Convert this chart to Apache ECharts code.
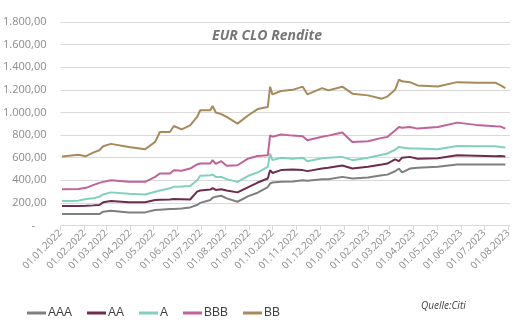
<!DOCTYPE html>
<html>
<head>
<meta charset="utf-8">
<script src="https://cdn.jsdelivr.net/npm/echarts@6/dist/echarts.min.js"></script>
<style>
  html, body { margin: 0; padding: 0; background: #ffffff; }
  #chart { width: 525px; height: 325px; }
</style>
</head>
<body>
<div id="chart"></div>
<script>
// ---- Data ----
const dates = [
  "2022-01-03","2022-01-24","2022-02-03","2022-02-12","2022-02-20","2022-02-25",
  "2022-03-07","2022-03-30","2022-04-20","2022-05-03","2022-05-09","2022-05-22",
  "2022-05-27","2022-06-06","2022-06-17","2022-06-26","2022-06-30","2022-07-13",
  "2022-07-16","2022-07-20","2022-07-27","2022-08-03","2022-08-17","2022-08-31",
  "2022-09-12","2022-09-25","2022-09-28","2022-10-01","2022-10-12","2022-10-27",
  "2022-11-09","2022-11-15","2022-12-04","2022-12-12","2022-12-30","2023-01-12",
  "2023-02-01","2023-02-19","2023-02-26","2023-03-08","2023-03-13","2023-03-17",
  "2023-03-27","2023-04-06","2023-05-02","2023-05-27","2023-06-20","2023-07-15",
  "2023-07-22","2023-07-28"
];
const seriesNames = ["AAA", "AA", "A", "BBB", "BB"];
const valuesAAA = [
  101,101,101,101,101,122, 131,116,116,137,140,146, 146,150,160,181,200,225,
  245,255,263,240,210,260, 290,340,372,380,386,390, 400,396,410,410,430,416,
  425,445,450,480,504,469, 504,510,519,540,540,540, 540,540
];
const valuesAA = [
  172,172,175,178,181,205, 216,205,205,225,228,230, 234,233,230,300,310,318,
  330,315,320,310,293,340, 380,416,489,465,490,495, 490,481,505,510,530,504,
  520,540,548,585,569,600, 607,590,595,622,618,613, 614,611
];
const valuesA = [
  216,220,234,240,254,275, 293,280,275,298,310,330, 342,345,350,400,440,445,
  451,430,430,410,386,440, 470,519,637,578,600,590, 600,569,595,600,607,578,
  600,625,637,670,695,690, 681,681,675,704,700,701, 695,689
];
const valuesBBB = [
  320,322,333,357,377,386, 401,388,386,430,460,460, 489,485,504,540,548,548,
  578,545,569,528,533,593, 615,622,798,785,805,795, 790,754,785,795,822,739,
  745,775,783,840,871,865, 871,857,871,910,890,878, 875,857
];
const valuesBB = [
  610,625,613,645,666,701, 722,695,675,740,827,827, 880,850,886,960,1019,1019,
  1057,1000,985,960,901,975, 1030,1048,1228,1160,1190,1200, 1228,1160,1215,1195,1228,1166,
  1151,1122,1140,1200,1290,1275, 1268,1239,1230,1268,1263,1263, 1239,1215
];
const monthLabels = [
  "01.01.2022","01.02.2022","01.03.2022","01.04.2022","01.05.2022","01.06.2022",
  "01.07.2022","01.08.2022","01.09.2022","01.10.2022","01.11.2022","01.12.2022",
  "01.01.2023","01.02.2023","01.03.2023","01.04.2023","01.05.2023","01.06.2023",
  "01.07.2023","01.08.2023"
];
const yTicks = [0, 200, 400, 600, 800, 1000, 1200, 1400, 1600, 1800];
const titleText = "EUR CLO Rendite";
const sourceText = "Quelle:Citi";

// ---- Helpers ----
function parseDMY(s) {
  const p = s.split(".");
  return Date.UTC(+p[2], +p[1] - 1, +p[0]);
}
function parseISO(s) {
  const p = s.split("-");
  return Date.UTC(+p[0], +p[1] - 1, +p[2]);
}
function fmtDE(v) {
  if (v === 0) return "-    ";
  const s = Math.round(v).toString().replace(/\B(?=(\d{3})+(?!\d))/g, ".");
  return s + ",00";
}

const monthTs = monthLabels.map(parseDMY);
const dateTs = dates.map(parseISO);
const allValues = [valuesAAA, valuesAA, valuesA, valuesBBB, valuesBB];
const colors = ["#7f7f7f", "#6b2c4e", "#80d0bf", "#c2629c", "#a8895b"];

const chart = echarts.init(document.getElementById("chart"), null, { renderer: "canvas" });

const option = {
  animation: false,
  backgroundColor: "#ffffff",
  color: colors,
  title: {
    text: titleText,
    left: 262,
    textAlign: "center",
    top: 24,
    textStyle: {
      fontFamily: "Open Sans",
      fontStyle: "italic",
      fontWeight: "bold",
      fontSize: 14,
      color: "#767676"
    }
  },
  graphic: [{
    type: "text",
    left: 421,
    top: 301,
    style: {
      text: sourceText,
      font: "italic 10px 'Open Sans'",
      fill: "#404040"
    }
  }],
  legend: {
    left: 22,
    top: 302,
    icon: "rect",
    itemWidth: 19,
    itemHeight: 3,
    itemGap: 15,
    textStyle: {
      fontFamily: "Liberation Sans",
      fontSize: 12,
      color: "#404040",
      padding: [0, 0, 0, -3]
    },
    data: seriesNames
  },
  grid: {
    left: 59,
    right: 15,
    top: 22,
    bottom: 99.5,
    containLabel: false
  },
  xAxis: {
    type: "value",
    min: monthTs[0],
    max: parseISO("2023-08-03"),
    axisLine: { show: true, lineStyle: { color: "#d9d9d9", width: 1 } },
    axisTick: {
      show: true,
      customValues: monthTs,
      length: 5,
      lineStyle: { color: "#d9d9d9" }
    },
    splitLine: { show: false },
    axisLabel: {
      customValues: monthTs,
      rotate: 45,
      margin: 6,
      fontFamily: "Open Sans",
      fontSize: 10,
      color: "#8c8c8c",
      formatter: function (v) {
        const i = monthTs.indexOf(v);
        return i >= 0 ? monthLabels[i] : "";
      }
    }
  },
  yAxis: {
    type: "value",
    min: yTicks[0],
    max: yTicks[yTicks.length - 1],
    interval: yTicks[1] - yTicks[0],
    axisLine: { show: false },
    axisTick: { show: false },
    splitLine: { lineStyle: { color: "#d9d9d9", width: 1 } },
    axisLabel: {
      margin: 14,
      fontFamily: "Open Sans",
      fontSize: 11,
      color: "#8c8c8c",
      formatter: fmtDE
    }
  },
  series: seriesNames.map(function (name, i) {
    return {
      name: name,
      type: "line",
      showSymbol: false,
      symbol: "none",
      lineStyle: { width: 2, color: colors[i] },
      itemStyle: { color: colors[i] },
      data: dateTs.map(function (t, k) { return [t, allValues[i][k]]; })
    };
  })
};

chart.setOption(option);
</script>
</body>
</html>
